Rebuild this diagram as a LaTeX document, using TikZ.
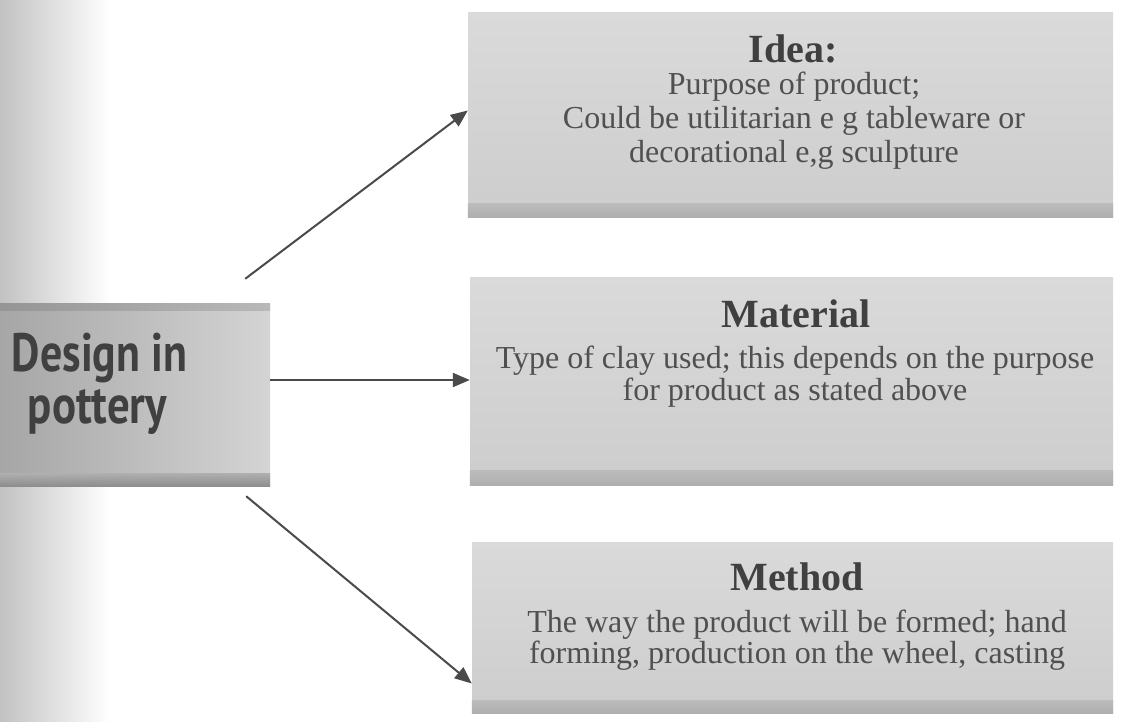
\documentclass[tikz,border=0pt]{standalone}
\usepackage{fontspec}
\setmainfont{Liberation Serif}
\newfontfamily\labelsans{PT Sans}
\usetikzlibrary{arrows.meta}

\definecolor{panel}{HTML}{DADADA}
\definecolor{panellow}{HTML}{CDCDCD}
\definecolor{paneldark}{HTML}{AEAEAE}
\definecolor{leftdark}{HTML}{A6A6A6}
\definecolor{leftlight}{HTML}{D4D4D4}
\definecolor{ink}{HTML}{404040}
\definecolor{bodyink}{HTML}{505050}
\definecolor{arrowink}{HTML}{4A4A4A}
\definecolor{edgeshade}{HTML}{C2C2C2}

\tikzset{
  panelbox/.style={rectangle, inner sep=0pt, top color=panel, bottom color=panellow},
  bevel/.style={top color=paneldark!55!panellow, bottom color=paneldark},
  titletext/.style={anchor=base, inner sep=0pt, text=ink,
    font=\bfseries\fontsize{40}{40}\selectfont},
  bodytext/.style={anchor=base, inner sep=0pt, text=bodyink,
    font=\fontsize{32}{32}\selectfont},
  headtext/.style={anchor=base, inner sep=0pt, text=ink},
  link/.style={draw=arrowink, line width=2pt,
    -{Triangle[length=17pt,width=14pt]}}
}

\begin{document}
\begin{tikzpicture}[x=1pt,y=-1pt]
\useasboundingbox (0,0) rectangle (1123,721);
\fill[white] (0,0) rectangle (1123,721);

% shaded page edge on the left
\shade[left color=edgeshade, right color=white] (0,0) rectangle (110,721);

% central box
\node[rectangle, inner sep=0pt, minimum width=270pt, minimum height=182pt,
      left color=leftdark, right color=leftlight] (design) at (135,395) {};
\shade[top color=leftdark!80!leftlight, bottom color=leftdark!85!black]
  ([yshift=13pt]design.south west) rectangle (design.south east);
\shade[left color=leftdark!90!black, right color=leftdark!60!leftlight]
  (design.north west) rectangle ([yshift=-7pt]design.north east);
\node[headtext] (designA) at (99.5,371)
  {\resizebox{175pt}{\height}{\labelsans\bfseries\fontsize{54}{54}\selectfont Design in}};
\node[headtext] (designB) at (97.5,423)
  {\resizebox{139pt}{\height}{\labelsans\bfseries\fontsize{54}{54}\selectfont pottery}};

% three outcome boxes
\node[panelbox, minimum width=645pt, minimum height=205pt] (idea) at (790.5,114.5) {};
\shade[bevel] ([yshift=14pt]idea.south west) rectangle (idea.south east);

\node[panelbox, minimum width=643pt, minimum height=208pt] (material) at (791.5,381) {};
\shade[bevel] ([yshift=15pt]material.south west) rectangle (material.south east);

\node[panelbox, minimum width=641pt, minimum height=171pt] (method) at (792.5,627.5) {};
\shade[bevel] ([yshift=13pt]method.south west) rectangle (method.south east);

% texts of the outcome boxes
\node[titletext] (ideaT) at (793,62) {Idea:};
\node[bodytext] (ideaA) at (794,94)  {Purpose of product;};
\node[bodytext] (ideaB) at (794,128) {Could be utilitarian e g tableware or};
\node[bodytext] (ideaC) at (794,162) {decorational e,g sculpture};

\node[titletext] (materialT) at (796,327) {Material};
\node[bodytext] (materialA) at (795,368) {Type of clay used; this depends on the purpose};
\node[bodytext] (materialB) at (795,400) {for product as stated above};

\node[titletext] (methodT) at (797,590) {Method};
\node[bodytext] (methodA) at (797,632) {The way the product will be formed; hand};
\node[bodytext] (methodB) at (797,663) {forming, production on the wheel, casting};

% connectors
\draw[link] ([xshift=-25pt,yshift=25pt]design.north east) -- ([yshift=4pt]idea.west);
\draw[link] ([yshift=15pt]design.east) -- ([yshift=1pt]material.west);
\draw[link] ([xshift=-24pt,yshift=-10pt]design.south east) -- ([yshift=-56pt]method.west);
\end{tikzpicture}
\end{document}
